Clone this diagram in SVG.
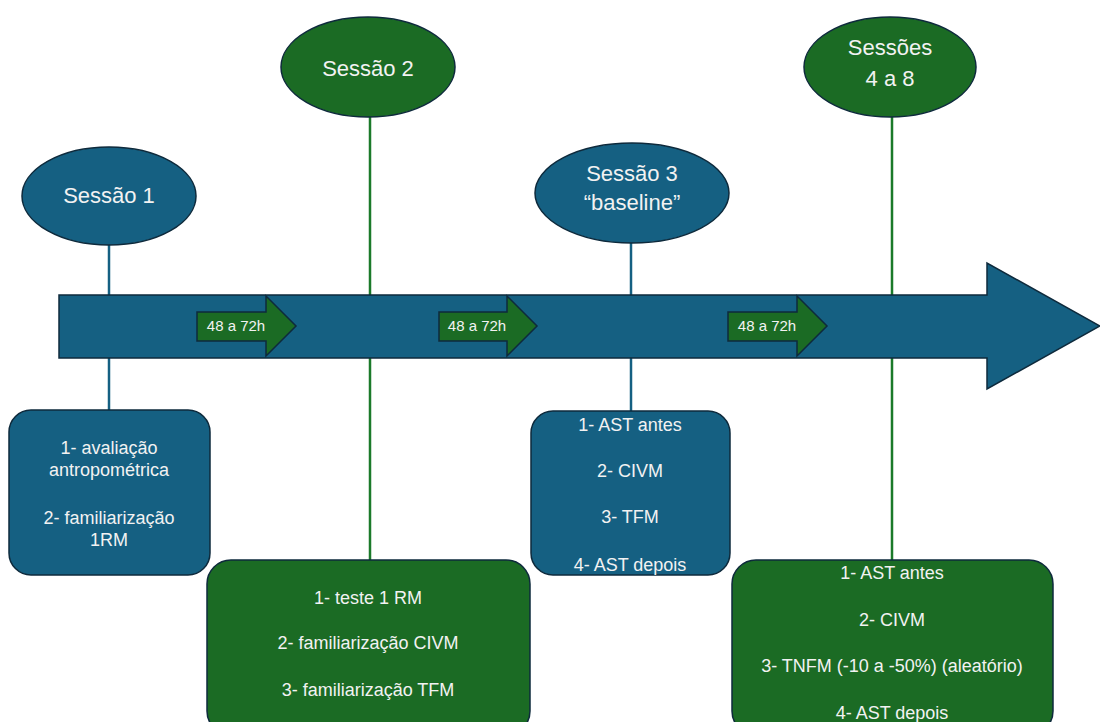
<svg xmlns="http://www.w3.org/2000/svg" width="1100" height="722" viewBox="0 0 1100 722">
<style>
.blue{fill:#156082;stroke:#0e2a3c;stroke-width:1.5}
.green{fill:#1b6b24;stroke:#0e2a3c;stroke-width:1.5}
text{font-family:"Liberation Sans",Arial,sans-serif;fill:#f2f2f2;text-anchor:middle}
.t{font-size:22px}
.b{font-size:18px}
.s{font-size:15px}
.lb{stroke:#156082;stroke-width:2.5;fill:none}
.lg{stroke:#1b7a2a;stroke-width:2.5;fill:none}
</style>
<rect width="1100" height="722" fill="#ffffff"/>
<g id="connectors">
<line class="lb" x1="109" y1="244" x2="109" y2="411"/>
<line class="lg" x1="370" y1="117" x2="370" y2="561"/>
<line class="lb" x1="631" y1="243" x2="631" y2="412"/>
<line class="lg" x1="892" y1="117" x2="892" y2="561"/>
</g>
<g id="timeline">
<polygon class="blue" points="59,295 987,295 987,263 1100,326 987,389 987,358 59,358"/>
</g>
<g id="gap1">
<polygon class="green" points="197,312 266,312 266,296 296,326 266,356 266,341 197,341"/>
<text class="s" x="236" y="331">48 a 72h</text>
</g>
<g id="gap2">
<polygon class="green" points="439,312 507,312 507,296 537,326 507,356 507,341 439,341"/>
<text class="s" x="477" y="331">48 a 72h</text>
</g>
<g id="gap3">
<polygon class="green" points="728,312 797,312 797,296 827,326 797,356 797,341 728,341"/>
<text class="s" x="767" y="331">48 a 72h</text>
</g>
<g id="sessao1">
<ellipse class="blue" cx="109" cy="196" rx="87" ry="49"/>
<text class="t" x="109" y="203">Sessão 1</text>
</g>
<g id="sessao2">
<ellipse class="green" cx="368" cy="67" rx="87" ry="50"/>
<text class="t" x="368" y="76">Sessão 2</text>
</g>
<g id="sessao3">
<ellipse class="blue" cx="632" cy="193" rx="97" ry="50"/>
<text class="t" x="632" y="181">Sessão 3</text>
<text class="t" x="632" y="210">“baseline”</text>
</g>
<g id="sessoes4a8">
<ellipse class="green" cx="890" cy="67" rx="86" ry="50"/>
<text class="t" x="890" y="55">Sessões</text>
<text class="t" x="890" y="86">4 a 8</text>
</g>
<g id="box1">
<rect class="blue" x="9" y="410" width="201" height="165" rx="22"/>
<text class="b" x="109" y="454">1- avaliação</text>
<text class="b" x="109" y="476">antropométrica</text>
<text class="b" x="109" y="524">2- familiarização</text>
<text class="b" x="109" y="546">1RM</text>
</g>
<g id="box2">
<rect class="green" x="207" y="560" width="323" height="175" rx="24"/>
<text class="b" x="368" y="604">1- teste 1 RM</text>
<text class="b" x="368" y="649">2- familiarização CIVM</text>
<text class="b" x="368" y="696">3- familiarização TFM</text>
</g>
<g id="box3">
<rect class="blue" x="531" y="411" width="199" height="164" rx="22"/>
<text class="b" x="630" y="431">1- AST antes</text>
<text class="b" x="630" y="477">2- CIVM</text>
<text class="b" x="630" y="523">3- TFM</text>
<text class="b" x="630" y="571">4- AST depois</text>
</g>
<g id="box4">
<rect class="green" x="732" y="560" width="321" height="175" rx="24"/>
<text class="b" x="892" y="579">1- AST antes</text>
<text class="b" x="892" y="626">2- CIVM</text>
<text class="b" x="892" y="672">3- TNFM (-10 a -50%) (aleatório)</text>
<text class="b" x="892" y="719">4- AST depois</text>
</g>
</svg>
